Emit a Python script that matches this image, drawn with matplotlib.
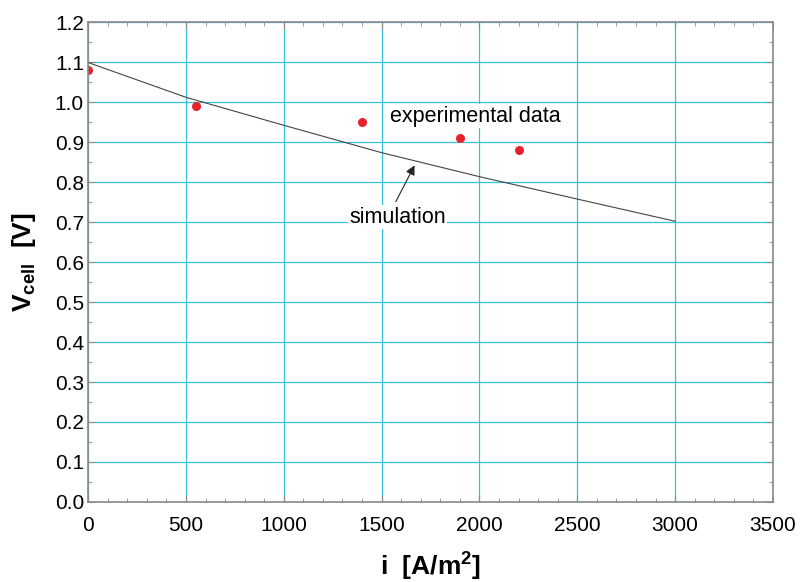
import matplotlib
matplotlib.use("Agg")
import matplotlib.pyplot as plt
from matplotlib.ticker import MultipleLocator

plt.rcParams['font.family'] = ['Liberation Sans', 'DejaVu Sans']
plt.rcParams['mathtext.fontset'] = 'custom'
plt.rcParams['mathtext.rm'] = 'Liberation Sans'
plt.rcParams['mathtext.bf'] = 'Liberation Sans:bold'

exp_i = [0, 550, 1400, 1900, 2200]
exp_v = [1.08, 0.99, 0.95, 0.91, 0.88]

sim_i = [0, 500, 1000, 1500, 2000, 2500, 3000]
sim_v = [1.099, 1.012, 0.942, 0.8735, 0.8135, 0.7575, 0.702]

fig = plt.figure(figsize=(8.01, 5.82), dpi=100)
ax = fig.add_axes([0.110, 0.1375, 0.855, 0.8245])

grid_c = '#35c3dc'
ax.set_xlim(0, 3500)
ax.set_ylim(0, 1.2)
ax.xaxis.set_major_locator(MultipleLocator(500))
ax.xaxis.set_minor_locator(MultipleLocator(100))
ax.yaxis.set_major_locator(MultipleLocator(0.1))
ax.yaxis.set_minor_locator(MultipleLocator(0.05))
ax.grid(True, which='major', color=grid_c, lw=0.9)
ax.set_axisbelow(True)

ax.plot(sim_i, sim_v, color='#444444', lw=0.8)
ax.plot(exp_i, exp_v, 'o', color='#e8202a', ms=6.5, mec='none')

for s in ax.spines.values():
    s.set_color('#8a8a8a')
    s.set_linewidth(1.2)
ax.tick_params(which='both', direction='in', top=True, right=True, color='#8a8a8a')
ax.tick_params(which='major', length=5, labelsize=15)
ax.tick_params(axis='x', which='major', pad=10)
ax.tick_params(axis='y', which='major', pad=3)
ax.tick_params(which='minor', length=3)
ax.set_yticklabels([f"{v:.1f}" for v in ax.get_yticks()])

ax.set_xlabel(r'i  [A/m$^\mathbf{2}$]', fontsize=19, fontweight='bold', labelpad=10)
ax.set_ylabel(r'V$_\mathbf{cell}$  [V]', fontsize=19, fontweight='bold', labelpad=12)

ax.text(1541, 0.965, 'experimental data', fontsize=15.5, va='center', ha='left',
        bbox=dict(facecolor='white', edgecolor='none', pad=1))
ax.text(1582, 0.7125, 'simulation', fontsize=15.5, va='center', ha='center',
        bbox=dict(facecolor='white', edgecolor='none', pad=1))
ax.annotate('', xy=(1675, 0.848), xytext=(1566, 0.745),
            arrowprops=dict(arrowstyle='-|>', color='#222222', lw=0.8, mutation_scale=14))

fig.savefig('out.png', dpi=100)
